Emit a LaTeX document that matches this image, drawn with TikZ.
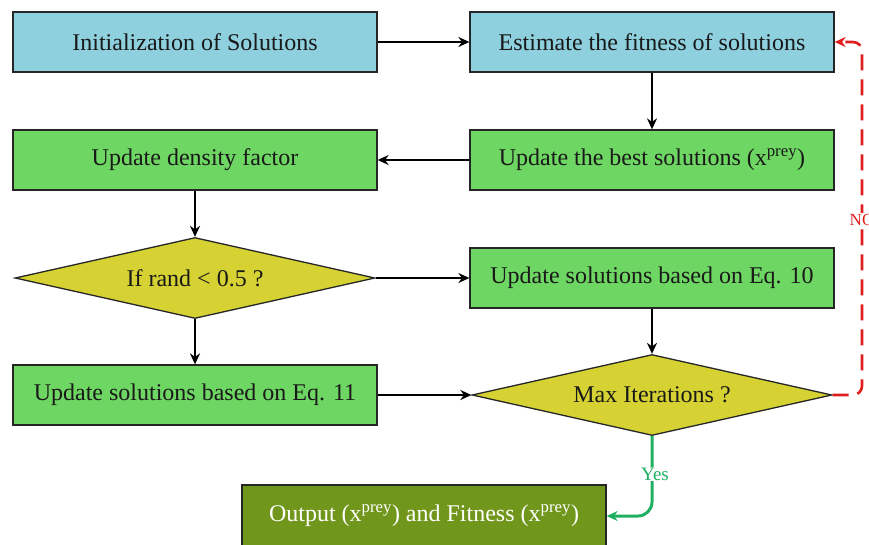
\documentclass[tikz,border=0pt]{standalone}
\usepackage{fontspec}
\setmainfont{Liberation Serif}
\usetikzlibrary{shapes.geometric,arrows.meta}
\definecolor{cbox}{RGB}{142,208,222}
\definecolor{gbox}{RGB}{110,214,98}
\definecolor{ybox}{RGB}{214,210,52}
\definecolor{obox}{RGB}{112,150,28}
\definecolor{nored}{RGB}{224,30,30}
\definecolor{yesgreen}{RGB}{30,176,96}
\begin{document}
\begin{tikzpicture}[x=1pt,y=-1pt,
  every node/.style={font=\fontsize{24}{28}\selectfont},
  boxbase/.style={draw=black!85,line width=1.3pt,minimum width=364pt,minimum height=60pt,inner sep=0pt,text=black!90},
  bluebox/.style={boxbase,fill=cbox},
  greenbox/.style={boxbase,fill=gbox},
  outbox/.style={boxbase,fill=obox,text=white,minimum height=62pt},
  decision/.style={diamond,draw=black!85,line width=1.3pt,fill=ybox,aspect=4.44,minimum width=360pt,minimum height=81pt,inner sep=0pt,text=black!90},
  flow/.style={line width=2.6pt,-{Stealth[length=11pt,width=10pt]}},
  noflow/.style={line width=2.6pt,draw=nored,dash pattern=on 16pt off 9pt,rounded corners=9pt,-{Stealth[length=11pt,width=10pt]}},
  yesflow/.style={line width=3pt,draw=yesgreen,rounded corners=14pt,-{Stealth[length=11pt,width=10pt]}}
]
\useasboundingbox (0,0) rectangle (869,544);
\node[bluebox] (init) at (195,42) {Initialization of Solutions};
\node[bluebox] (est) at (652,42) {Estimate the fitness of solutions};
\node[greenbox] (best) at (652,160) {Update the best solutions (x\textsuperscript{prey})};
\node[greenbox] (dens) at (195,160) {Update density factor};
\node[decision] (rand) at (195,278) {If rand < 0.5 ?};
\node[greenbox] (eq10) at (652,278) {Update solutions based on Eq. 10};
\node[greenbox] (eq11) at (195,395) {Update solutions based on Eq. 11};
\node[decision] (maxit) at (652,395) {Max Iterations ?};
\node[outbox] (out) at (424,516) {Output (x\textsuperscript{prey}) and Fitness (x\textsuperscript{prey})};
\coordinate (nb) at (862,395);
\coordinate (nt) at (862,42);
\coordinate (yb) at (652,516);
\draw[flow] (init) -- (est);
\draw[flow] (est) -- (best);
\draw[flow] (best) -- (dens);
\draw[flow] (dens) -- (rand);
\draw[flow] (rand) -- (eq10);
\draw[flow] (rand) -- (eq11);
\draw[flow] (eq10) -- (maxit);
\draw[flow] (eq11) -- (maxit);
\draw[noflow] (maxit.east) -- (nb) -- (nt) -- (est.east);
\node[text=nored,fill=white,inner sep=1pt,font=\fontsize{17}{20}\selectfont] (nolab) at (862,220) {NO};
\draw[yesflow] (maxit.south) -- (yb) -- (out.east);
\node[text=yesgreen,fill=white,inner sep=1pt,font=\fontsize{19}{22}\selectfont] (yeslab) at (655,474) {Yes};
\end{tikzpicture}
\end{document}
